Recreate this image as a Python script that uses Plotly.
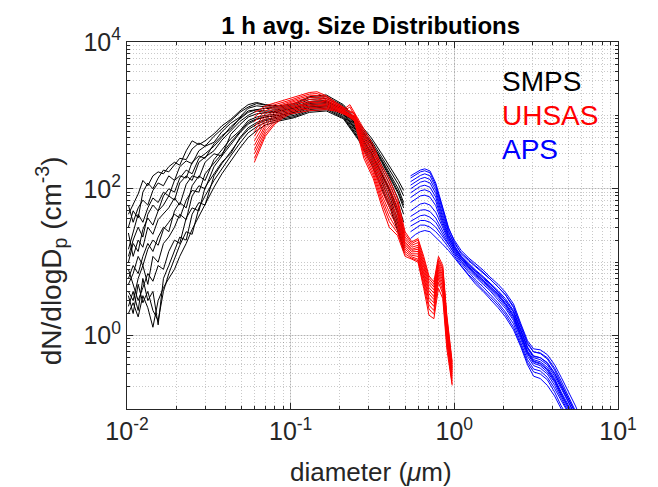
import plotly.graph_objects as go

# diameters (um) for each instrument
smps_diam = [0.0102, 0.0109, 0.0117, 0.0125, 0.0134, 0.0144, 0.0155, 0.0167, 0.018, 0.0195,
             0.021, 0.023, 0.025, 0.0275, 0.03, 0.034, 0.038, 0.043, 0.049, 0.055,
             0.062, 0.07, 0.085, 0.105, 0.13, 0.165, 0.21, 0.26, 0.31, 0.36,
             0.41, 0.455, 0.49]

uhsas_diam = [0.06, 0.065, 0.07, 0.08, 0.09, 0.1, 0.115, 0.13, 0.145, 0.165,
              0.19, 0.215, 0.23, 0.245, 0.28, 0.32, 0.36, 0.4, 0.45, 0.5,
              0.55, 0.6, 0.65, 0.7, 0.75, 0.8, 0.85, 0.9, 0.97]

aps_diam = [0.54, 0.58, 0.62, 0.66, 0.71, 0.77, 0.84, 0.92, 1.0, 1.1,
            1.22, 1.35, 1.5, 1.65, 1.85, 2.05, 2.3, 2.55, 2.8, 3.05,
            3.35, 3.7, 4.1, 4.5, 5.0, 5.5, 6.0]

# dN/dlogDp (cm^-3), one list per 1 h average
smps_1 = [45, 60, 85, 130, 110, 150, 170, 160, 200, 230, 210, 330, 450, 400, 450, 560, 720, 880, 1150, 1400, 1500, 1400, 1350, 1450, 1800, 1900, 1400, 800, 500, 300, 190, 130, 95]
smps_2 = [30, 50, 40, 90, 120, 100, 140, 180, 170, 210, 260, 250, 350, 420, 380, 520, 650, 850, 1100, 1300, 1450, 1380, 1300, 1400, 1750, 1800, 1350, 760, 460, 270, 170, 115, 80]
smps_3 = [60, 35, 55, 70, 60, 95, 120, 110, 150, 130, 200, 240, 220, 330, 380, 430, 600, 780, 950, 1250, 1350, 1300, 1250, 1350, 1650, 1700, 1300, 720, 430, 250, 150, 100, 65]
smps_4 = [15, 25, 45, 35, 55, 75, 65, 90, 80, 130, 150, 140, 230, 280, 260, 410, 530, 650, 920, 1150, 1200, 1250, 1200, 1300, 1550, 1600, 1250, 680, 400, 230, 135, 85, 55]
smps_5 = [10, 18, 14, 28, 40, 32, 50, 60, 80, 70, 120, 150, 130, 230, 270, 330, 460, 620, 830, 1000, 1150, 1100, 1150, 1250, 1450, 1500, 1200, 650, 370, 210, 120, 72, 45]
smps_6 = [25, 12, 20, 16, 30, 24, 38, 45, 55, 75, 60, 115, 150, 140, 230, 300, 280, 550, 750, 950, 1050, 1080, 1100, 1200, 1400, 1450, 1150, 620, 350, 190, 105, 60, 35]
smps_7 = [6, 9, 7, 12, 18, 14, 22, 30, 26, 50, 65, 55, 110, 150, 130, 250, 340, 480, 620, 850, 950, 1000, 1050, 1150, 1350, 1400, 1100, 590, 320, 170, 90, 50, 28]
smps_8 = [4, 3, 6, 9, 5, 12, 10, 18, 22, 30, 45, 38, 80, 110, 100, 200, 280, 400, 580, 760, 880, 950, 1000, 1100, 1300, 1350, 1050, 560, 300, 155, 80, 42, 22]
smps_9 = [8, 5, 3, 4.5, 7, 5.5, 9, 8, 14, 20, 18, 40, 55, 50, 105, 160, 230, 300, 500, 680, 800, 880, 950, 1050, 1250, 1300, 1000, 530, 280, 140, 70, 36, 19]
smps_10 = [2.5, 4, 2.2, 6, 3, 4, 1.4, 6, 9, 14, 22, 20, 45, 65, 60, 150, 220, 320, 480, 640, 760, 850, 920, 1000, 1200, 1250, 960, 500, 260, 125, 62, 32, 16]
smps_11 = [3.5, 2, 5, 2.8, 4, 2.2, 1.6, 4, 7, 11, 17, 26, 24, 55, 80, 130, 190, 280, 420, 580, 700, 800, 880, 960, 1150, 1200, 930, 480, 240, 110, 55, 28, 14]
smps_12 = [2, 2.8, 1.8, 3.5, 2.4, 1.3, 3, 4.5, 6, 8, 12, 18, 28, 42, 62, 105, 160, 240, 360, 500, 620, 740, 840, 930, 1100, 1150, 900, 460, 220, 100, 50, 25, 15]
smps_13 = [12, 20, 30, 22, 45, 60, 50, 80, 100, 90, 140, 180, 160, 260, 300, 380, 500, 700, 900, 1100, 1200, 1150, 1150, 1250, 1500, 1550, 1200, 700, 420, 240, 140, 90, 60]
smps_14 = [5, 7, 12, 9, 15, 20, 17, 28, 35, 45, 40, 70, 95, 90, 160, 220, 300, 430, 600, 800, 900, 950, 1000, 1100, 1300, 1350, 1050, 580, 310, 160, 85, 45, 25]

uhsas_1 = [1100, 1200, 1350, 1480, 1600, 1700, 1900, 2050, 2100, 1850, 1500, 1250, 1400, 1100, 650, 390, 205, 137, 73, 26, 19, 21, 12, 6.5, 5.4, 12, 9, 1.9, 0.44]
uhsas_2 = [950, 1100, 1250, 1400, 1500, 1620, 1800, 1950, 1980, 1780, 1460, 1220, 1150, 1070, 600, 350, 185, 120, 64, 24, 18, 20, 11, 6, 5, 11, 8.4, 1.75, 0.41]
uhsas_3 = [820, 980, 1150, 1320, 1450, 1560, 1720, 1850, 1870, 1700, 1420, 1200, 1120, 1040, 560, 320, 165, 106, 57, 22, 17, 18.5, 10, 5.5, 4.6, 10.4, 7.8, 1.6, 0.38]
uhsas_4 = [700, 880, 1050, 1240, 1380, 1500, 1640, 1750, 1770, 1640, 1380, 1180, 1300, 1010, 520, 290, 148, 94, 51, 20.5, 16, 17, 9.2, 5, 4.2, 9.6, 7.2, 1.5, 0.36]
uhsas_5 = [600, 790, 960, 1160, 1320, 1440, 1560, 1650, 1680, 1580, 1350, 1160, 1070, 980, 480, 265, 132, 83, 46, 19, 15, 16, 8.5, 4.5, 3.8, 9, 6.6, 1.38, 0.34]
uhsas_6 = [520, 700, 880, 1090, 1260, 1380, 1490, 1560, 1590, 1520, 1320, 1140, 1050, 960, 445, 240, 118, 73, 41, 18, 14.5, 15, 7.8, 4.1, 3.4, 8.4, 6.1, 1.27, 0.32]
uhsas_7 = [450, 620, 800, 1020, 1200, 1320, 1420, 1480, 1510, 1460, 1290, 1120, 1030, 940, 410, 220, 105, 64, 37, 17, 13.8, 14, 7.2, 3.7, 3.1, 7.8, 5.6, 1.17, 0.3]
uhsas_8 = [390, 550, 730, 960, 1140, 1260, 1360, 1410, 1440, 1400, 1260, 1100, 1010, 920, 380, 200, 93, 56, 33, 16, 13, 13, 6.6, 3.3, 2.8, 7.2, 5.1, 1.07, 0.28]
uhsas_9 = [340, 490, 670, 900, 1080, 1200, 1300, 1340, 1370, 1350, 1230, 1080, 990, 900, 350, 182, 83, 49, 30, 15, 12.4, 12, 6, 3, 2.5, 6.6, 4.6, 0.97, 0.26]
uhsas_10 = [300, 440, 610, 850, 1030, 1150, 1240, 1280, 1310, 1300, 1200, 1060, 970, 880, 320, 165, 74, 42, 27, 14, 11.8, 11, 5.4, 2.6, 2.2, 6, 4.1, 0.87, 0.24]
uhsas_11 = [260, 390, 560, 800, 980, 1100, 1180, 1220, 1250, 1250, 1170, 1040, 950, 860, 290, 150, 66, 36, 25, 13, 11.3, 10.5, 4.9, 2.3, 1.95, 5.3, 3.7, 0.78, 0.22]
uhsas_12 = [230, 350, 520, 760, 930, 1050, 1120, 1160, 1180, 1200, 1140, 1020, 930, 840, 260, 137, 58, 30, 23, 12, 11, 10, 4.4, 1.9, 1.7, 4.4, 3.2, 0.66, 0.21]

aps_1 = [150, 165, 180, 187, 175, 120, 60, 30, 19, 13, 10.5, 8.6, 7.2, 5.9, 4.6, 3.6, 2.5, 1.35, 0.8, 0.6, 0.58, 0.5, 0.36, 0.24, 0.15, 0.095, 0.062]
aps_2 = [140, 155, 170, 176, 165, 112, 56, 29, 20, 14.5, 11.5, 9.5, 7.8, 6.3, 5.0, 3.9, 2.7, 1.45, 0.85, 0.66, 0.64, 0.55, 0.4, 0.27, 0.17, 0.11, 0.07]
aps_3 = [125, 140, 152, 160, 150, 104, 52, 27, 17, 12, 9.2, 7.4, 6.0, 5.0, 3.9, 3.0, 2.1, 1.15, 0.68, 0.52, 0.5, 0.43, 0.31, 0.21, 0.13, 0.085, 0.06]
aps_4 = [112, 125, 137, 143, 134, 95, 48, 26, 18, 13.5, 10.8, 8.9, 7.3, 6.0, 4.6, 3.6, 2.4, 1.3, 0.76, 0.6, 0.57, 0.48, 0.34, 0.22, 0.14, 0.09, 0.06]
aps_5 = [100, 112, 123, 128, 120, 86, 44, 24, 16, 11.5, 8.8, 7.0, 5.7, 4.7, 3.6, 2.7, 1.85, 1.0, 0.6, 0.45, 0.42, 0.35, 0.25, 0.16, 0.1, 0.07, 0.06]
aps_6 = [88, 98, 108, 112, 105, 77, 40, 23, 16.5, 12.2, 9.6, 7.8, 6.4, 5.3, 4.1, 3.2, 2.2, 1.2, 0.7, 0.53, 0.5, 0.42, 0.3, 0.2, 0.125, 0.08, 0.06]
aps_7 = [76, 85, 94, 97, 91, 68, 37, 22, 15, 11, 8.4, 6.6, 5.3, 4.3, 3.3, 2.5, 1.7, 0.95, 0.56, 0.42, 0.39, 0.32, 0.23, 0.15, 0.095, 0.065, 0.06]
aps_8 = [65, 73, 80, 82, 77, 59, 34, 21, 15.5, 11.8, 9.3, 7.6, 6.2, 5.1, 3.9, 3.0, 2.1, 1.15, 0.67, 0.5, 0.47, 0.4, 0.28, 0.19, 0.12, 0.08, 0.06]
aps_9 = [50, 56, 62, 64, 60, 48, 31, 20, 14, 10.2, 7.8, 6.2, 5.0, 4.1, 3.1, 2.35, 1.6, 0.9, 0.52, 0.39, 0.36, 0.3, 0.21, 0.14, 0.09, 0.06, 0.06]
aps_10 = [42, 47, 51, 52, 49, 40, 28, 19, 14.5, 11, 8.7, 7.1, 5.8, 4.8, 3.7, 2.8, 1.95, 1.05, 0.62, 0.47, 0.44, 0.37, 0.26, 0.17, 0.11, 0.075, 0.06]
aps_11 = [36, 40, 43, 44, 41, 35, 25, 18, 13, 9.6, 7.3, 5.7, 4.6, 3.7, 2.8, 2.1, 1.45, 0.8, 0.47, 0.35, 0.33, 0.27, 0.19, 0.13, 0.085, 0.06, 0.06]
aps_12 = [31, 34, 37, 37, 35, 30, 23, 17, 13.5, 10.4, 8.2, 6.7, 5.5, 4.5, 3.5, 2.65, 1.8, 1.0, 0.58, 0.44, 0.41, 0.34, 0.24, 0.16, 0.1, 0.07, 0.06]
aps_13 = [26, 29, 32, 32, 30, 26, 21, 16, 12, 9, 6.8, 5.3, 4.2, 3.4, 2.6, 1.95, 1.3, 0.74, 0.43, 0.32, 0.3, 0.25, 0.17, 0.11, 0.075, 0.06, 0.06]
aps_14 = [21, 24, 26, 27, 26, 22, 18, 14.5, 11.5, 8.8, 6.6, 5.0, 4.0, 3.2, 2.4, 1.8, 1.2, 0.7, 0.4, 0.28, 0.26, 0.21, 0.15, 0.1, 0.07, 0.06, 0.06]

smps_runs = [smps_1, smps_2, smps_3, smps_4, smps_5, smps_6, smps_7, smps_8, smps_9, smps_10,
             smps_11, smps_12, smps_13, smps_14]
uhsas_runs = [uhsas_1, uhsas_2, uhsas_3, uhsas_4, uhsas_5, uhsas_6, uhsas_7, uhsas_8, uhsas_9, uhsas_10,
              uhsas_11, uhsas_12]
aps_runs = [aps_1, aps_2, aps_3, aps_4, aps_5, aps_6, aps_7, aps_8, aps_9, aps_10,
            aps_11, aps_12, aps_13, aps_14]

instruments = ['SMPS', 'UHSAS', 'APS']
colors = ['#000000', '#FF0000', '#0000FF']

x_ticks = [0.01, 0.1, 1, 10]
x_labels = ['10<sup>-2</sup>', '10<sup>-1</sup>', '10<sup>0</sup>', '10<sup>1</sup>']
y_ticks = [1, 100, 10000]
y_labels = ['10<sup>0</sup>', '10<sup>2</sup>', '10<sup>4</sup>']

fig = go.Figure()

for diam, runs, col in zip([smps_diam, uhsas_diam, aps_diam],
                           [smps_runs, uhsas_runs, aps_runs], colors):
    for r in runs:
        fig.add_trace(go.Scatter(x=diam, y=r, mode='lines',
                                 line=dict(color=col, width=1),
                                 showlegend=False, hoverinfo='skip'))

# instrument labels inside the axes (matlab text)
for i, (name, col) in enumerate(zip(instruments, colors)):
    fig.add_annotation(text=name, xref='paper', yref='paper',
                       x=0.76, y=0.893 - i * 0.093, xanchor='left', yanchor='middle',
                       showarrow=False, font=dict(size=28, color=col))

# axis titles as annotations so they sit where matlab put them
fig.add_annotation(text='diameter (<i>μ</i>m)', xref='paper', yref='paper',
                   x=0.497, y=-0.172, xanchor='center', yanchor='middle',
                   showarrow=False, font=dict(size=26, color='#262626'))
fig.add_annotation(text='dN/dlogD<sub>p</sub> (cm<sup>-3</sup>)', xref='paper', yref='paper',
                   x=-0.153, y=0.405, xanchor='center', yanchor='middle', textangle=-90,
                   showarrow=False, font=dict(size=28, color='#262626'))

axis_common = dict(
    type='log', tickmode='array',
    ticks='inside', ticklen=6, tickcolor='#262626',
    showline=True, linecolor='#262626', linewidth=1, mirror='ticks',
    showgrid=True, gridcolor='rgba(38,38,38,0.15)', zeroline=False,
    tickfont=dict(size=25, color='#262626'),
    minor=dict(dtick='D1', ticks='inside', ticklen=3, tickcolor='#262626',
               showgrid=True, gridcolor='rgba(38,38,38,0.25)', griddash='1px,2px'),
)

fig.update_xaxes(axis_common, range=[-2, 1], tickvals=x_ticks, ticktext=x_labels)
fig.update_yaxes(axis_common, range=[-1, 4], tickvals=y_ticks, ticktext=y_labels)

# page body adds an 8px margin, so the figure is 8px smaller and shifted
fig.update_layout(
    width=650, height=479,
    margin=dict(l=119, r=40, t=34, b=78),
    plot_bgcolor='white', paper_bgcolor='white',
    font=dict(family='Liberation Sans, Arial, sans-serif', color='#262626'),
    title=dict(text='<b>1 h avg. Size Distributions</b>', x=0.558, xanchor='center',
               y=0.963, yanchor='middle', font=dict(size=24, color='#000000')),
)

fig.write_html("out.html")
